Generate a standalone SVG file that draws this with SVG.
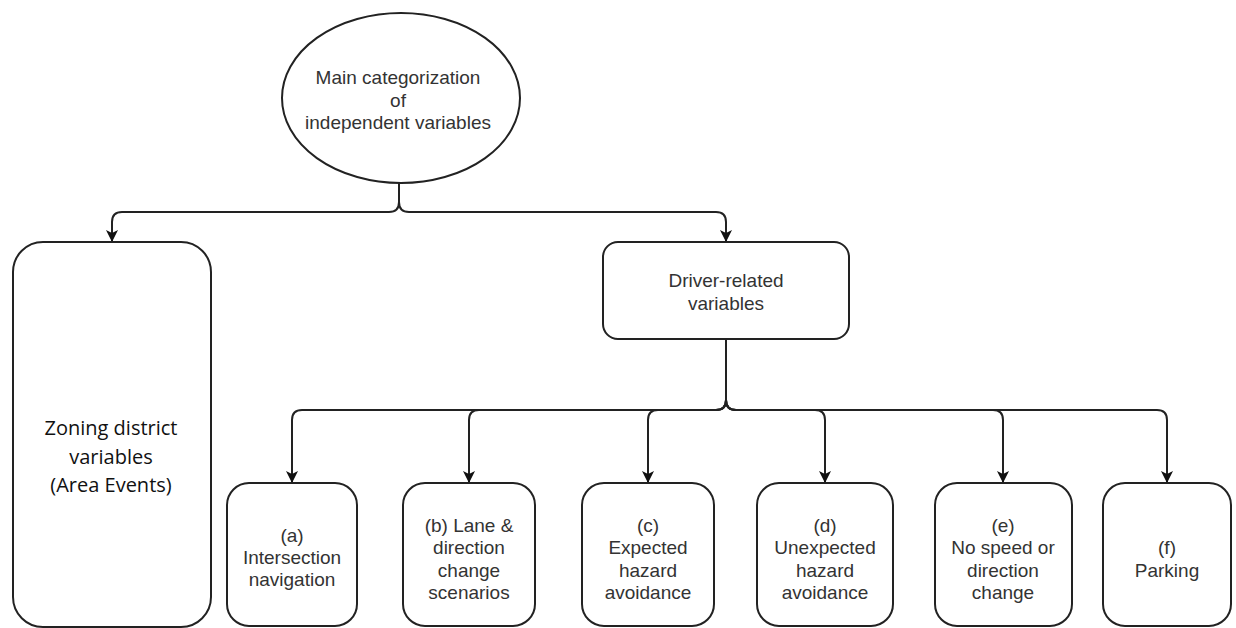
<svg xmlns="http://www.w3.org/2000/svg" width="1236" height="628" viewBox="0 0 1236 628">
<defs>
<marker id="arr" viewBox="0 0 12 12" refX="12" refY="6" markerWidth="12" markerHeight="12" markerUnits="userSpaceOnUse" orient="auto">
<path d="M0,0 L12,6 L0,12 L3,6 z" fill="#111"/>
</marker>
<style>
.node{fill:#fff;stroke:#222;stroke-width:2}
.edge{fill:none;stroke:#222;stroke-width:2;marker-end:url(#arr)}
.t{font-family:"Liberation Sans",Arial,sans-serif;font-size:19px;fill:#333;text-anchor:middle}
.z{font-family:"Open Sans","Liberation Sans",sans-serif;font-size:20px;fill:#111;text-anchor:middle}
</style>
</defs>
<rect width="1236" height="628" fill="#fff"/>
<g id="connectors">
<path class="edge" d="M399,183 V202 Q399,212 389,212 H122 Q112,212 112,222 V242"/>
<path class="edge" d="M399,183 V202 Q399,212 409,212 H716 Q726,212 726,222 V242"/>
<path class="edge" d="M726,339 V400 Q726,410 716,410 H302 Q292,410 292,420 V483"/>
<path class="edge" d="M726,339 V400 Q726,410 716,410 H479 Q469,410 469,420 V483"/>
<path class="edge" d="M726,339 V400 Q726,410 716,410 H658 Q648,410 648,420 V483"/>
<path class="edge" d="M726,339 V400 Q726,410 736,410 H815 Q825,410 825,420 V483"/>
<path class="edge" d="M726,339 V400 Q726,410 736,410 H993 Q1003,410 1003,420 V483"/>
<path class="edge" d="M726,339 V400 Q726,410 736,410 H1157 Q1167,410 1167,420 V483"/>
</g>
<g id="main">
<ellipse class="node" cx="401" cy="98" rx="119" ry="85" stroke-width="1.6"/>
<text class="t" x="398" y="84">Main categorization</text>
<text class="t" x="398" y="107">of</text>
<text class="t" x="398" y="129">independent variables</text>
</g>
<g id="zoning">
<rect class="node" x="13" y="242" width="198" height="385" rx="30"/>
<text class="z" x="111" y="435">Zoning district</text>
<text class="z" x="111" y="464">variables</text>
<text class="z" x="111" y="492">(Area Events)</text>
</g>
<g id="driver">
<rect class="node" x="603" y="242" width="246" height="97" rx="15"/>
<text class="t" x="726" y="287">Driver-related</text>
<text class="t" x="726" y="310">variables</text>
</g>
<g id="a">
<rect class="node" x="227" y="483" width="130" height="143" rx="22"/>
<text class="t" x="292" y="542">(a)</text>
<text class="t" x="292" y="564">Intersection</text>
<text class="t" x="292" y="586">navigation</text>
</g>
<g id="b">
<rect class="node" x="403" y="483" width="132" height="143" rx="22"/>
<text class="t" x="469" y="532">(b) Lane &amp;</text>
<text class="t" x="469" y="554">direction</text>
<text class="t" x="469" y="577">change</text>
<text class="t" x="469" y="599">scenarios</text>
</g>
<g id="c">
<rect class="node" x="582" y="483" width="132" height="143" rx="22"/>
<text class="t" x="648" y="532">(c)</text>
<text class="t" x="648" y="554">Expected</text>
<text class="t" x="648" y="577">hazard</text>
<text class="t" x="648" y="599">avoidance</text>
</g>
<g id="d">
<rect class="node" x="757" y="483" width="136" height="143" rx="22"/>
<text class="t" x="825" y="532">(d)</text>
<text class="t" x="825" y="554">Unexpected</text>
<text class="t" x="825" y="577">hazard</text>
<text class="t" x="825" y="599">avoidance</text>
</g>
<g id="e">
<rect class="node" x="935" y="483" width="137" height="143" rx="22"/>
<text class="t" x="1003" y="532">(e)</text>
<text class="t" x="1003" y="554">No speed or</text>
<text class="t" x="1003" y="577">direction</text>
<text class="t" x="1003" y="599">change</text>
</g>
<g id="f">
<rect class="node" x="1103" y="483" width="128" height="143" rx="22"/>
<text class="t" x="1167" y="554">(f)</text>
<text class="t" x="1167" y="577">Parking</text>
</g>
</svg>
